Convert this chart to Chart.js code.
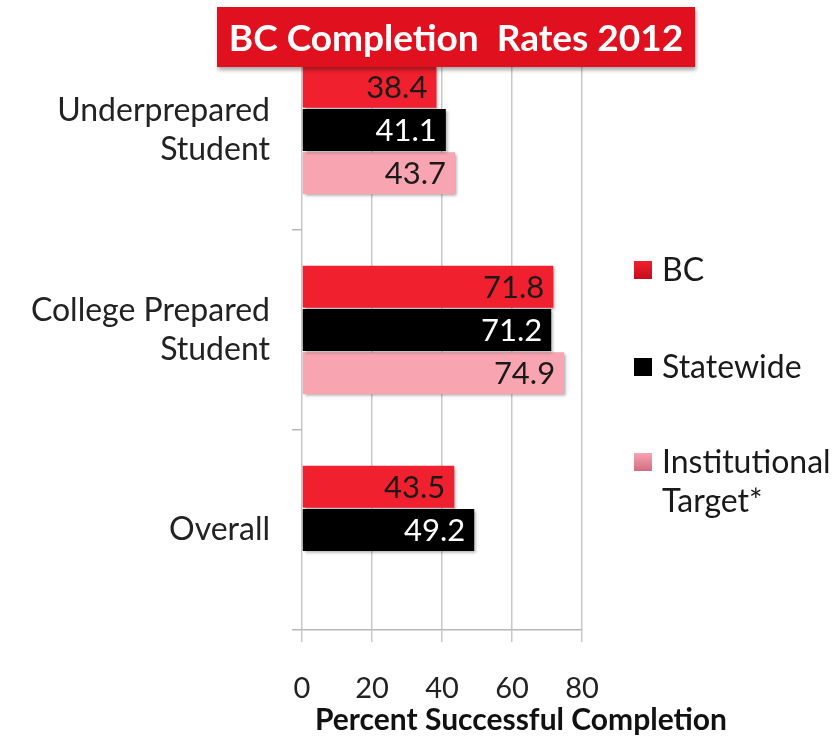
<!DOCTYPE html>
<html>
<head>
<meta charset="utf-8">
<script src="https://cdn.jsdelivr.net/npm/chart.js@4.4.0/dist/chart.umd.min.js"></script>
<style>
  body { margin: 0; background: #fff; font-family: Lato, sans-serif; }
  #wrap { position: relative; width: 838px; height: 744px; }
  #chart { position: absolute; left: 0; top: 0; }
  #titulo {
    position: absolute; left: 217px; top: 7px; width: 478px; height: 60px;
    background: #e1101f; color: #fff; font: bold 37px Lato, sans-serif;
    line-height: 60px; text-align: center; box-shadow: 1px 3px 4px rgba(0,0,0,0.35);
  }
  #eixoX {
    position: absolute; left: 290px; top: 700px; width: 462px; text-align: center;
    font: bold 30px Lato, sans-serif; color: #111;
  }
</style>
</head>
<body>
<div id="wrap">
  <canvas id="chart" width="838" height="744"></canvas>
  <div id="titulo">BC Completion&nbsp; Rates 2012</div>
  <div id="eixoX">Percent Successful Completion</div>
</div>
<script>
// dados
const categorias = [['Underprepared', 'Student'], ['College Prepared', 'Student'], 'Overall'];
const bc = [38.4, 71.8, 43.5];
const statewide = [41.1, 71.2, 49.2];
const target = [43.7, 74.9, null];
const nomesSeries = [['BC'], ['Statewide'], ['Institutional', 'Target*']];
const ticksX = [0, 20, 40, 60, 80];

function gradiente(ctx, topo, base) {
  const area = ctx.chart.chartArea;
  const el = ctx.element;
  if (!area || !el || !el.height) return topo;
  const g = ctx.chart.ctx.createLinearGradient(0, el.y - el.height / 2, 0, el.y + el.height / 2);
  g.addColorStop(0, topo);
  g.addColorStop(1, base);
  return g;
}

// sombra nas barras
const sombra = {
  id: 'sombra',
  beforeDatasetsDraw(chart) {
    const c = chart.ctx;
    c.save();
    c.shadowColor = 'rgba(0,0,0,0.35)';
    c.shadowOffsetX = 2;
    c.shadowOffsetY = 2;
    c.shadowBlur = 3;
  },
  afterDatasetsDraw(chart) {
    chart.ctx.restore();
  }
};

// valores dentro das barras
const rotulos = {
  id: 'rotulos',
  afterDatasetsDraw(chart) {
    const c = chart.ctx;
    c.save();
    c.font = '31px Lato, sans-serif';
    c.textAlign = 'right';
    c.textBaseline = 'middle';
    chart.data.datasets.forEach((ds, i) => {
      chart.getDatasetMeta(i).data.forEach((bar, j) => {
        const v = ds.data[j];
        if (v == null) return;
        c.fillStyle = ds.corTexto;
        c.fillText(v.toFixed(1), bar.x - 9, bar.y + 1);
      });
    });
    c.restore();
  }
};

// legenda à direita
const legenda = {
  id: 'legenda',
  afterDraw(chart) {
    const c = chart.ctx;
    const ys = [270, 367, 462];
    c.save();
    c.font = '32px Lato, sans-serif';
    c.textBaseline = 'middle';
    chart.data.datasets.forEach((ds, i) => {
      const y = ys[i];
      const g = c.createLinearGradient(0, y - 9, 0, y + 9);
      g.addColorStop(0, ds.corTopo);
      g.addColorStop(1, ds.corBase);
      c.fillStyle = g;
      c.fillRect(634, y - 9, 18, 18);
      c.fillStyle = '#1a1a1a';
      nomesSeries[i].forEach((linha, k) => c.fillText(linha, 662, y + 1 + k * 39));
    });
    c.restore();
  }
};

const series = [
  { label: 'BC', data: bc, corTopo: '#f0202e', corBase: '#c50d1c', corTexto: '#1a1a1a' },
  { label: 'Statewide', data: statewide, corTopo: '#000000', corBase: '#000000', corTexto: '#ffffff' },
  { label: 'Institutional Target*', data: target, corTopo: '#f8a4b1', corBase: '#d26c82', corTexto: '#1a1a1a' }
];

new Chart(document.getElementById('chart'), {
  type: 'bar',
  data: {
    labels: categorias,
    datasets: series.map(s => ({
      ...s,
      backgroundColor: ctx => gradiente(ctx, s.corTopo, s.corBase),
      borderWidth: 0,
      barPercentage: 0.97,
      categoryPercentage: 0.65
    }))
  },
  options: {
    indexAxis: 'y',
    responsive: false,
    animation: false,
    layout: { padding: { top: 30, right: 256, left: 0, bottom: 0 } },
    plugins: { legend: { display: false }, tooltip: { enabled: false } },
    scales: {
      x: {
        min: 0, max: 80,
        afterBuildTicks: s => { s.ticks = ticksX.map(v => ({ value: v })); },
        afterFit: s => { s.height = 114; s.paddingLeft = 0; s.paddingRight = 0; },
        grid: { color: '#c8c8c8', lineWidth: 1.5, tickLength: 12 },
        border: { color: '#b8b8b8', width: 1.5 },
        ticks: { font: { size: 29, family: 'Lato' }, color: '#222', padding: 29 }
      },
      y: {
        offset: true,
        afterFit: s => { s.width = 302; s.paddingTop = 0; s.paddingBottom = 0; },
        grid: { offset: true, drawOnChartArea: false, color: '#b8b8b8', tickLength: 10, lineWidth: 1.5 },
        border: { display: false },
        ticks: { font: { size: 32, family: 'Lato' }, color: '#222', padding: 22, lineHeight: 1.45 }
      }
    }
  },
  plugins: [sombra, rotulos, legenda]
});
</script>
</body>
</html>
